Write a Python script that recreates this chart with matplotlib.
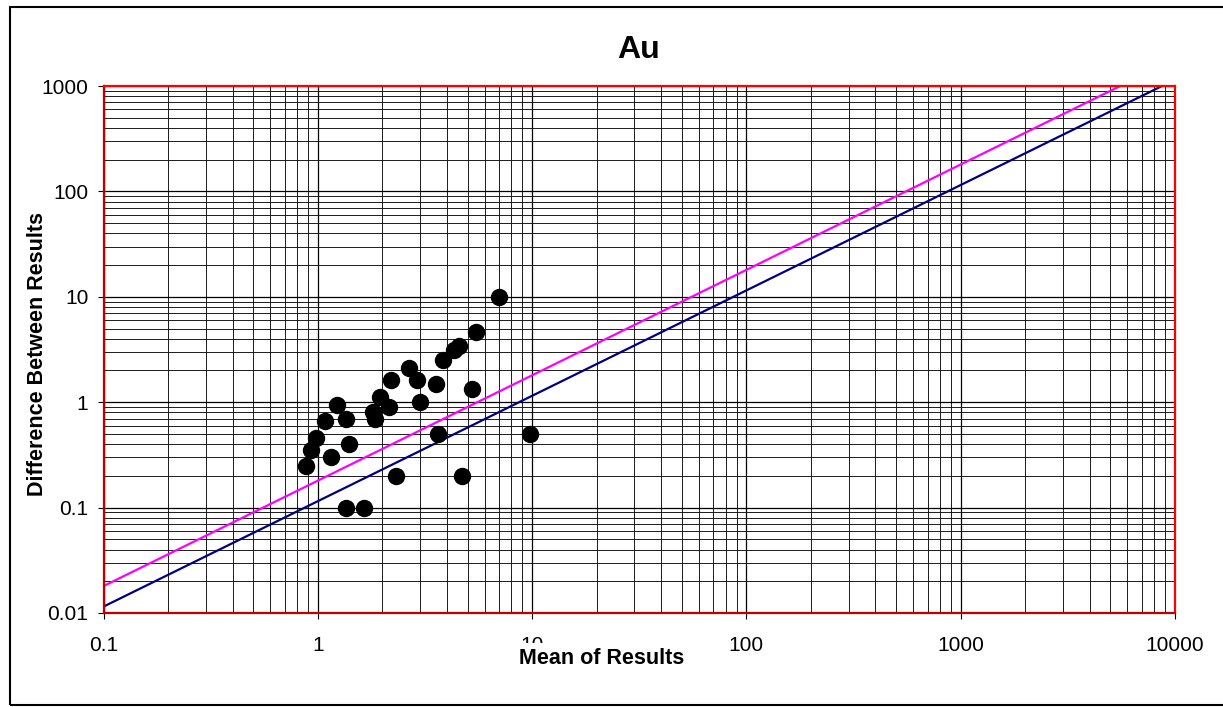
import matplotlib
matplotlib.use("Agg")
import matplotlib.pyplot as plt
from matplotlib.patches import Rectangle
from matplotlib.ticker import LogLocator, NullFormatter, FixedLocator, FixedFormatter

plt.rcParams['font.family'] = ['Liberation Sans', 'DejaVu Sans']

# Data
mean_results = [7.0, 5.45, 4.57, 4.32, 3.85, 2.66, 2.20, 2.89, 3.55, 5.24,
                1.95, 3.0, 2.16, 1.225, 1.80, 1.85, 1.35, 1.08, 0.98, 0.93,
                1.40, 1.15, 0.88, 3.65, 9.78, 2.31, 4.71, 1.35, 1.65]
diff_results = [10.0, 4.6, 3.4, 3.1, 2.5, 2.1, 1.62, 1.62, 1.5, 1.32,
                1.12, 1.0, 0.9, 0.95, 0.8, 0.7, 0.7, 0.66, 0.46, 0.35,
                0.40, 0.30, 0.25, 0.5, 0.5, 0.2, 0.2, 0.1, 0.1]

line_x = [0.1, 10000]
pink_y = [0.018, 1800]
navy_y = [0.0115, 1150]

x_ticks = [0.1, 1, 10, 100, 1000, 10000]
x_tick_labels = ['0.1', '1', '10', '100', '1000', '10000']
y_ticks = [0.01, 0.1, 1, 10, 100, 1000]
y_tick_labels = ['0.01', '0.1', '1', '10', '100', '1000']

W, H = 1223, 707
fig = plt.figure(figsize=(W / 100, H / 100), dpi=100)
ax = fig.add_axes([103.5 / W, (H - 613) / H, (1175 - 103.5) / W, (613 - 86) / H])

ax.set_xscale('log')
ax.set_yscale('log')
ax.set_xlim(0.1, 10000)
ax.set_ylim(0.01, 1000)

ax.xaxis.set_major_locator(FixedLocator(x_ticks))
ax.xaxis.set_major_formatter(FixedFormatter(x_tick_labels))
ax.yaxis.set_major_locator(FixedLocator(y_ticks))
ax.yaxis.set_major_formatter(FixedFormatter(y_tick_labels))
ax.xaxis.set_minor_locator(LogLocator(base=10, subs=range(2, 10), numticks=20))
ax.yaxis.set_minor_locator(LogLocator(base=10, subs=range(2, 10), numticks=20))
ax.xaxis.set_minor_formatter(NullFormatter())
ax.yaxis.set_minor_formatter(NullFormatter())

ax.grid(True, which='major', color='black', linewidth=0.9)
ax.grid(True, which='minor', color='#1a1a1a', linewidth=0.7)
ax.set_axisbelow(True)

ax.tick_params(which='major', direction='out', length=4.3, width=0.8, color='black',
               labelsize=15, pad=6.5)
ax.tick_params(axis='x', which='major', pad=12.5)
ax.tick_params(which='minor', length=0)

for side, sp in ax.spines.items():
    sp.set_linewidth(1.6)
    sp.set_color('#ff0000' if side in ('top', 'right') else '#c00000')
    sp.set_zorder(5)

ax.plot(line_x, pink_y, color='#ff00ff', linewidth=1.6, zorder=3)
ax.plot(line_x, navy_y, color='#000080', linewidth=1.6, zorder=3)
ax.plot(mean_results, diff_results, linestyle='none', marker='o', markersize=11.5,
        color='black', zorder=4)

# Title and axis labels
fig.text(639 / W, 1 - 58 / H, 'Au', ha='center', va='baseline', fontsize=23,
         fontweight='bold')
fig.text(602 / W, 1 - 664 / H, 'Mean of Results', ha='center', va='baseline',
         fontsize=15.5, fontweight='bold',
         bbox=dict(facecolor='white', edgecolor='none', pad=3.5), zorder=10)
fig.text(38 / W, 1 - 354 / H, 'Difference Between Results', ha='center', va='center',
         rotation=90, fontsize=15.5, fontweight='bold')

# Outer chart border
fig.add_artist(Rectangle((10 / W, 2 / H), 1.05, (705 - 7) / H, transform=fig.transFigure,
                         fill=False, edgecolor='black', linewidth=1.5, clip_on=False))

fig.savefig('out.png', dpi=100)
